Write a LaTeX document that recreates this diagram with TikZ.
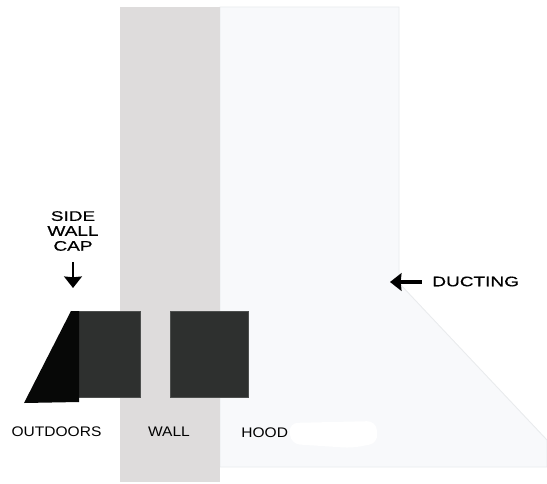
\documentclass[tikz,border=0pt]{standalone}
\usepackage{fontspec}
\usetikzlibrary{arrows.meta}
\setmainfont{Liberation Sans}
\newfontfamily\plainlbl[FakeStretch=1.12]{Liberation Sans}
\newfontfamily\widelbl[FakeStretch=1.37,FakeBold=0.6]{Liberation Sans}
\definecolor{wallgray}{HTML}{DEDCDC}
\definecolor{hoodfill}{HTML}{F8F9FB}
\definecolor{hoodedge}{HTML}{E9EBED}
\definecolor{ductdark}{HTML}{2E302F}
\definecolor{capblack}{HTML}{070807}
\tikzset{
    lbl/.style={font=\plainlbl\fontsize{7.9pt}{8.5pt}\selectfont, text=black, inner sep=0pt, align=center},
    lblwide/.style={font=\widelbl\fontsize{7.9pt}{8.5pt}\selectfont, text=black, inner sep=0pt, align=center},
    pointer/.style={-{Stealth[length=6.5pt,width=10pt,inset=0.4pt]}, line width=1.5pt, black},
    duct/.style={fill=ductdark, draw=ductdark!85!white, line width=0.3pt}
}
\begin{document}
\begin{tikzpicture}[x=0.02cm, y=-0.02cm]
    \useasboundingbox (0, 0) rectangle (547, 483);

    % hood
    \draw[fill=hoodfill, draw=hoodedge, line width=0.5pt] (220, 7) -- (399, 7) -- (399, 283) -- (547, 440) -- (547, 467) -- (220, 467) -- cycle;
    % white patch on the hood
    \fill[white, rounded corners=5pt] (289, 423) -- (376, 421) -- (378, 443) -- (352, 448) -- (291, 444) -- cycle;

    % wall
    \fill[wallgray] (120, 7) rectangle (220, 482);

    % ducting pieces
    \draw[duct] (78, 311) rectangle (140, 397);
    \draw[duct] (170, 311) rectangle (248, 397);

    % side wall cap
    \fill[capblack] (71, 311) -- (79, 311) -- (79, 402) -- (24, 403) -- cycle;

    % labels
    \node[lblwide] (cap) at (73, 231) {SIDE\\WALL\\CAP};
    \node[lblwide, anchor=west] (ducting) at (432, 281.5) {DUCTING};
    \node[lbl] (outdoors) at (56.5, 432) {OUTDOORS};
    \node[lbl] (wall) at (169, 432) {WALL};
    \node[lbl, anchor=west] (hood) at (241, 432.5) {HOOD};

    % arrows
    \coordinate (captail) at (73, 262);
    \coordinate (captip) at (73, 288);
    \coordinate (ducttail) at (421.5, 282);
    \coordinate (ducttip) at (390, 282);
    \draw[pointer] (captail) -- (captip);
    \draw[pointer, line width=1.9pt] (ducttail) -- (ducttip);
\end{tikzpicture}
\end{document}
